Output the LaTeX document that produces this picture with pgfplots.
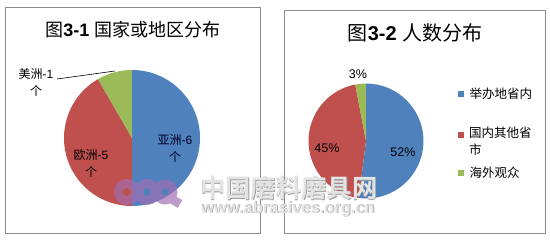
\documentclass[border=0pt]{standalone}
\usepackage{pgfplots}
\usepackage{pgfplotstable}
\pgfplotsset{compat=1.18}
\usepackage{fontspec}
\setmainfont{Liberation Sans}
\newfontfamily\cjk{Noto Sans CJK SC}
\newfontfamily\cjkb{Noto Sans CJK SC Bold}

\definecolor{pieblue}{HTML}{4F81BD}
\definecolor{piered}{HTML}{C0504D}
\definecolor{piegreen}{HTML}{9BBB59}
\definecolor{framegray}{HTML}{8C8C8C}
\definecolor{logopurple}{RGB}{162,109,178}

% countries / regions of exhibitors
\pgfplotstableread{
value color
6 pieblue
5 piered
1 piegreen
}\regiontable

% visitors by origin (percent)
\pgfplotstableread{
value color
52 pieblue
45 piered
3 piegreen
}\visitortable

% pie wedges from a value table, clockwise from 12 o'clock
\newcommand\drawpie[2]{%
  \pgfplotstablegetrowsof{#1}%
  \pgfmathtruncatemacro\lastrow{\pgfplotsretval-1}%
  \gdef\pietotal{0}%
  \foreach \i in {0,...,\lastrow}{%
    \pgfplotstablegetelem{\i}{value}\of{#1}%
    \pgfmathsetmacro\tmp{\pietotal+\pgfplotsretval}%
    \global\let\pietotal\tmp}%
  \gdef\pieangle{90}%
  \foreach \i in {0,...,\lastrow}{%
    \pgfplotstablegetelem{\i}{value}\of{#1}%
    \pgfmathsetmacro\sweep{\pgfplotsretval/\pietotal*360}%
    \pgfplotstablegetelem{\i}{color}\of{#1}%
    \let\slicecolor\pgfplotsretval
    \pgfmathsetmacro\endangle{\pieangle-\sweep}%
    \fill[fill=\slicecolor] (axis cs:0,0) -- (axis cs:{#2*cos(\pieangle)},{#2*sin(\pieangle)})
      arc[start angle=\pieangle, end angle=\endangle, radius=#2] -- cycle;
    \global\let\pieangle\endangle}%
}

% embossed grey text for the site mark
\newcommand\embossed[3]{%
  \node[text=gray!75, font=#1, anchor=west, inner sep=0pt] at ([shift={(0.7pt,-0.7pt)}]#2) {#3};
  \node[text=gray!22, font=#1, anchor=west, inner sep=0pt] at (#2) {#3};}

\begin{document}
\begin{tikzpicture}
\path[fill=white, use as bounding box] (0,0) rectangle (550pt,244pt);

% panel frames
\draw[framegray, line width=0.8pt] (5pt,11pt) rectangle (260pt,237pt);
\draw[framegray, line width=0.8pt] (284pt,11pt) rectangle (545pt,234pt);

% ---- left chart
\node[font=\fontsize{18}{20}\selectfont] at (133pt,214pt) {{\cjk 图}\textbf{3-1} {\cjk 国家或地区分布}};
\begin{axis}[at={(132pt,106pt)}, anchor=center, x=1cm, y=1cm, scale only axis,
  xmin=-2.5, xmax=2.5, ymin=-2.5, ymax=2.5, hide axis, clip=false]
  \pgfplotsextra{\drawpie{\regiontable}{2.39}}
\end{axis}
\begin{scope}[font=\fontsize{12}{17}\selectfont]
\node[align=center, text=black!85!blue] at (175pt,95.5pt) {{\cjk 亚洲}-6\\{\cjk 个}};
\node[align=center] at (91pt,80.5pt) {{\cjk 欧洲}-5\\{\cjk 个}};
\node[align=center] at (36pt,161.5pt) {{\cjk 美洲}-1\\{\cjk 个}};
\end{scope}
\draw[black, line width=0.6pt] (57pt,165pt) -- (115pt,173pt);

% ---- right chart
\node[font=\fontsize{20}{22}\selectfont] at (415pt,211pt) {{\cjk 图}\textbf{3-2} {\cjk 人数分布}};
\begin{axis}[at={(366pt,103pt)}, anchor=center, x=1cm, y=1cm, scale only axis,
  xmin=-2.1, xmax=2.1, ymin=-2.1, ymax=2.1, hide axis, clip=false]
  \pgfplotsextra{\drawpie{\visitortable}{2.02}}
\end{axis}
\begin{scope}[font=\fontsize{12.5}{15}\selectfont]
\node at (403pt,92pt) {52\%};
\node at (327pt,96pt) {45\%};
\node at (358pt,170pt) {3\%};
\end{scope}
% legend
\begin{scope}[font=\cjk\fontsize{12.5}{17}\selectfont]
\fill[pieblue]  (458pt,147pt) rectangle ++(6pt,6pt);
\fill[piered]   (458pt,106pt) rectangle ++(6pt,6pt);
\fill[piegreen] (458pt,68pt)  rectangle ++(6pt,6pt);
\node[anchor=west] at (466pt,150pt) {举办地省内};
\node[anchor=north west, align=left, inner sep=0pt] at (469pt,117pt) {国内其他省\\市};
\node[anchor=west] at (466pt,71pt) {海外观众};
\end{scope}

% ---- site watermark
\draw[logopurple, opacity=0.68, line width=9pt] (127pt,52pt) circle (8.5pt) (147pt,52pt) circle (8.5pt)
  (165pt,52pt) circle (8pt) (170pt,46pt) -- (180pt,40pt);
\embossed{\cjkb\fontsize{25.3}{27}\selectfont}{200pt,56pt}{中国磨料磨具网}
\embossed{\bfseries\fontsize{16.5}{18}\selectfont}{201pt,35pt}{www.abrasives.org.cn}
\end{tikzpicture}
\end{document}
